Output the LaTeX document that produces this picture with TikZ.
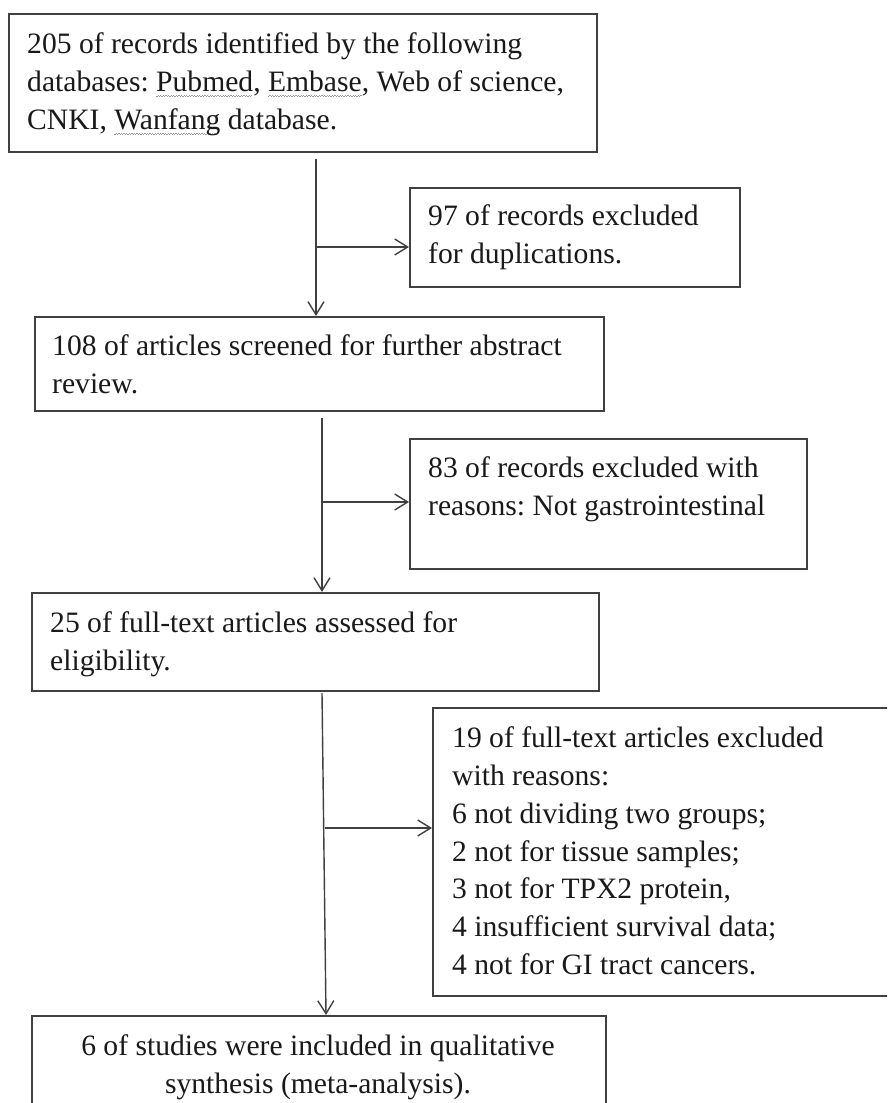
\documentclass[tikz,border=0pt]{standalone}
\usepackage{fontspec}
\setmainfont{Liberation Serif}
\usetikzlibrary{arrows.meta}
\frenchspacing
\newcommand\wavyul[1]{\setbox0\hbox{#1}\rlap{\textcolor{black!40}{\leaders\hbox{\rule[-5pt]{1.3pt}{0.9pt}\rule[-4pt]{1.3pt}{0.9pt}}\hskip\wd0}}#1}
\begin{document}
\begin{tikzpicture}[x=1pt,y=-1pt,
  box/.style={draw=black!75, line width=1.5pt, inner sep=0pt, anchor=north west},
  txt/.style={inner sep=0pt, align=left, font=\fontsize{29.6}{37.8}\selectfont\frenchspacing, text=black!90, anchor=north west},
  arr/.style={draw=black!75, line width=1.4pt, -{Straight Barb[length=13pt,width=16pt]}}
]
\fill[white] (0,0) rectangle (887,1103);
\useasboundingbox (0,0) rectangle (887,1103);
\clip (0,0) rectangle (887,1103);

% boxes
\node[box, minimum width=588pt, minimum height=138pt] (b1) at (8,13) {};
\node[box, minimum width=330pt, minimum height=99pt]  (b2) at (409,187) {};
\node[box, minimum width=569pt, minimum height=94pt]  (b3) at (34,316) {};
\node[box, minimum width=397pt, minimum height=130pt] (b4) at (409,438) {};
\node[box, minimum width=567pt, minimum height=98pt]  (b5) at (31,592) {};
\node[box, minimum width=480pt, minimum height=288pt] (b6) at (432,707) {};
\node[box, minimum width=574pt, minimum height=120pt] (b7) at (31,1015) {};

% texts
\node[txt] (t1) at (27,32.9) {205 of records identified by the following\\databases: \wavyul{Pubmed}, \wavyul{Embase}, Web of science,\\CNKI, \wavyul{Wanfang} database.};
\node[txt] (t2) at (428,204.6) {97 of records excluded\\for duplications.};
\node[txt] (t3) at (52,334.6) {108 of articles screened for further abstract\\review.};
\node[txt] (t4) at (428,456.6) {83 of records excluded with\\reasons: Not gastrointestinal};
\node[txt] (t5) at (50,611.6) {25 of full-text articles assessed for\\eligibility.};
\node[txt] (t6) at (452,726.6) {19 of full-text articles excluded\\with reasons:\\6 not dividing two groups;\\2 not for tissue samples;\\3 not for TPX2 protein,\\4 insufficient survival data;\\4 not for GI tract cancers.};
\node[txt, align=center, anchor=north] (t7) at (318,1034.6) {6 of studies were included in qualitative\\synthesis (meta-analysis).};

% connectors
\coordinate (s1) at (316,159);
\coordinate (j1) at (316,247);
\draw[arr] (s1) -- (s1 |- b3.north);
\draw[arr] (j1) -- (j1 -| b2.west);

\coordinate (s2) at (322,418);
\coordinate (j2) at (322,502);
\draw[arr] (s2) -- (s2 |- b5.north);
\draw[arr] (j2) -- (j2 -| b4.west);

\coordinate (s3) at (322,693);
\coordinate (j3) at (325,828);
\coordinate (e3) at ([xshift=4pt]s3 |- b7.north);
\draw[arr] (s3) -- (e3);
\draw[arr] (j3) -- (j3 -| b6.west);
\end{tikzpicture}
\end{document}
